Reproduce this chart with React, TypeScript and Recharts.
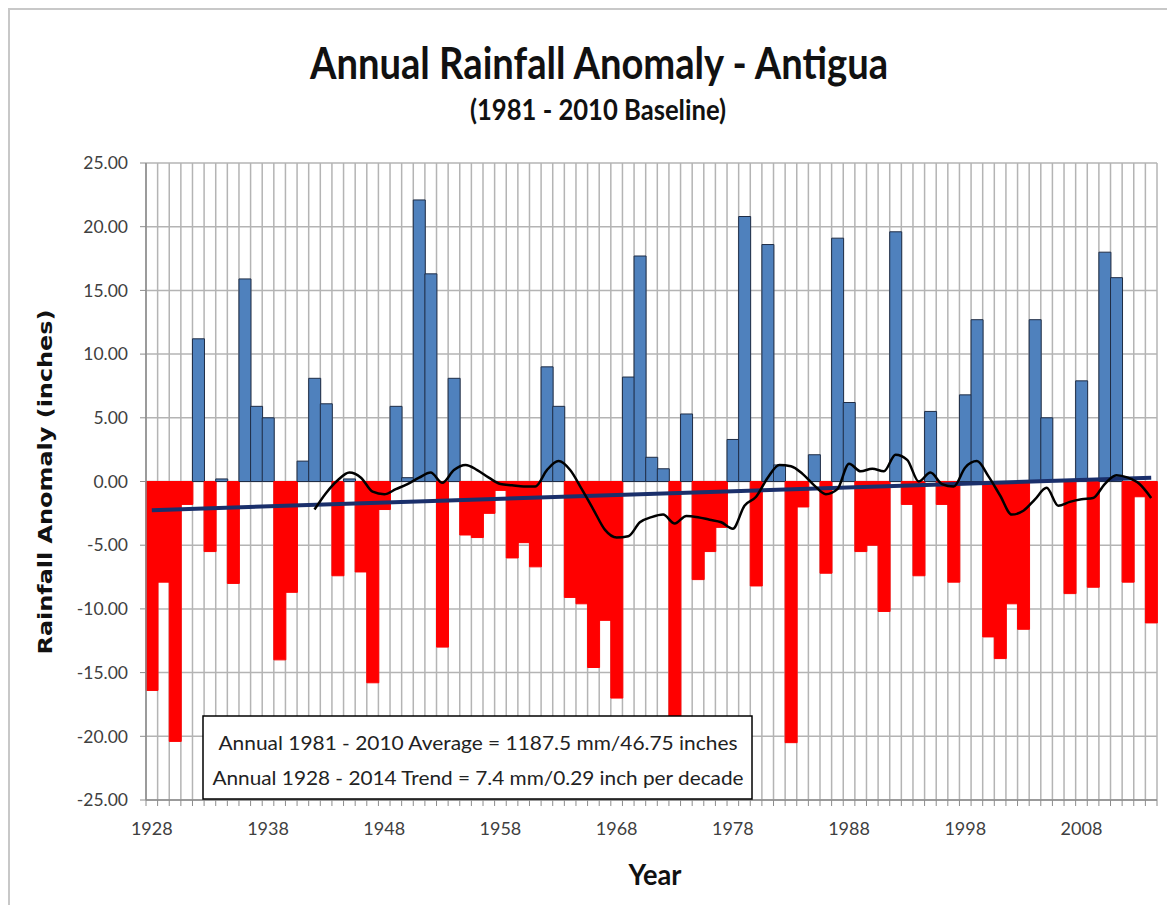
import React from 'react';
import { ComposedChart, Bar, Line, XAxis, YAxis, CartesianGrid, Cell } from 'recharts';

const years = [
  1928, 1929, 1930, 1931, 1932, 1933, 1934, 1935, 1936, 1937,
  1938, 1939, 1940, 1941, 1942, 1943, 1944, 1945, 1946, 1947,
  1948, 1949, 1950, 1951, 1952, 1953, 1954, 1955, 1956, 1957,
  1958, 1959, 1960, 1961, 1962, 1963, 1964, 1965, 1966, 1967,
  1968, 1969, 1970, 1971, 1972, 1973, 1974, 1975, 1976, 1977,
  1978, 1979, 1980, 1981, 1982, 1983, 1984, 1985, 1986, 1987,
  1988, 1989, 1990, 1991, 1992, 1993, 1994, 1995, 1996, 1997,
  1998, 1999, 2000, 2001, 2002, 2003, 2004, 2005, 2006, 2007,
  2008, 2009, 2010, 2011, 2012, 2013, 2014,
];

// annual anomaly, inches
const anomaly = [
  -16.4, -7.9, -20.4, -1.8, 11.2, -5.5, 0.2, -8.0, 15.9, 5.9,
  5.0, -14.0, -8.7, 1.6, 8.1, 6.1, -7.4, 0.2, -7.1, -15.8,
  -2.2, 5.9, 0.3, 22.1, 16.3, -13.0, 8.1, -4.2, -4.4, -2.5,
  -0.7, -6.0, -4.8, -6.7, 9.0, 5.9, -9.1, -9.6, -14.6, -10.9,
  -17.0, 8.2, 17.7, 1.9, 1.0, -18.6, 5.3, -7.7, -5.5, -3.6,
  3.3, 20.8, -8.2, 18.6, 1.3, -20.5, -2.0, 2.1, -7.2, 19.1,
  6.2, -5.5, -5.0, -10.2, 19.6, -1.8, -7.4, 5.5, -1.8, -7.9,
  6.8, 12.7, -12.2, -13.9, -9.6, -11.6, 12.7, 5.0, 0.1, -8.8,
  7.9, -8.3, 18.0, 16.0, -7.9, -1.2, -11.1,
];

// 15-yr running mean (black curve)
const movingAvg = [
  null, null, null, null, null, null, null, null, null, null,
  null, null, null, null, -2.2, -0.9, 0.1, 0.7, 0.3, -0.8,
  -1.0, -0.6, -0.2, 0.3, 0.7, -0.1, 0.9, 1.3, 0.9, 0.3,
  -0.2, -0.3, -0.4, -0.4, 0.9, 1.6, 0.9, -0.6, -2.2, -3.8,
  -4.4, -4.3, -3.2, -2.8, -2.6, -3.3, -2.7, -2.8, -3.0, -3.2,
  -3.7, -1.9, -1.2, 0.3, 1.3, 1.2, 0.6, -0.3, -1.0, -0.6,
  1.4, 0.8, 1.0, 0.8, 2.1, 1.7, 0.0, 0.7, -0.2, -0.4,
  1.1, 1.6, 0.4, -1.1, -2.6, -2.3, -1.4, -0.5, -1.9, -1.6,
  -1.4, -1.3, -0.2, 0.5, 0.3, -0.2, -1.3,
];

// linear trend end points (1928, 2014)
const trendFirst = -2.25;
const trendLast = 0.3;

const yTicks = [-25, -20, -15, -10, -5, 0, 5, 10, 15, 20, 25];
const xTickLabels = [1928, 1938, 1948, 1958, 1968, 1978, 1988, 1998, 2008];

const W = 1167;
const H = 897;
const Y_AXIS_W = 138;
const X_AXIS_H = 105;
const MARGIN = { top: 155, right: 18, left: 0, bottom: 0 };
const PLOT_W = W - MARGIN.right - Y_AXIS_W;
const BAND = PLOT_W / years.length;
const AXIS_Y = H - X_AXIS_H;

const axisColor = '#8c8c8c';
const gridColor = '#b4b4b4';
const textColor = '#404040';
const blueFill = '#4f81bd';
const redFill = '#ff0000';

const data = years.map((year, i) => ({
  year,
  anomaly: anomaly[i],
  ma: movingAvg[i],
  trend: i === 0 ? trendFirst : i === years.length - 1 ? trendLast : null,
}));

function YearTick(props: any) {
  const { x, payload } = props;
  const isLast = payload.value === years[years.length - 1];
  return (
    <g>
      <line x1={x - BAND / 2} x2={x - BAND / 2} y1={AXIS_Y} y2={AXIS_Y + 6} stroke={axisColor} />
      {isLast && <line x1={x + BAND / 2} x2={x + BAND / 2} y1={AXIS_Y} y2={AXIS_Y + 6} stroke={axisColor} />}
      {xTickLabels.includes(payload.value) && (
        <text x={x} y={AXIS_Y + 35} textAnchor="middle" fill={textColor} fontSize={18} fontFamily="Lato">
          {payload.value}
        </text>
      )}
    </g>
  );
}

export default function App() {
  return (
    <div style={{ position: 'relative', width: W, height: H, background: '#fff' }}>
      <ComposedChart width={W} height={H} data={data} margin={MARGIN} barCategoryGap={0} barGap={0}>
        <CartesianGrid
          stroke={gridColor}
          strokeWidth={1.5}
          verticalCoordinatesGenerator={({ offset }: any) =>
            years.map((_, i) => offset.left + i * offset.width / years.length).concat(offset.left + offset.width)
          }
        />
        <XAxis
          dataKey="year"
          height={X_AXIS_H}
          interval={0}
          tickLine={false}
          axisLine={{ stroke: axisColor, strokeWidth: 1.5 }}
          tick={<YearTick />}
        />
        <YAxis
          width={Y_AXIS_W}
          domain={[-25, 25]}
          ticks={yTicks}
          tickFormatter={(v: number) => v.toFixed(2)}
          tickSize={6}
          tickMargin={12}
          axisLine={{ stroke: axisColor, strokeWidth: 1.5 }}
          tickLine={{ stroke: axisColor }}
          tick={{ fill: textColor, fontSize: 17.5, fontFamily: 'Lato' }}
        />
        <Bar dataKey="anomaly" isAnimationActive={false}>
          {data.map((d, i) => (
            <Cell
              key={i}
              fill={d.anomaly >= 0 ? blueFill : redFill}
              stroke={d.anomaly >= 0 ? '#1f2d46' : redFill}
              strokeWidth={1}
            />
          ))}
        </Bar>
        <Line
          dataKey="trend"
          type="linear"
          stroke="#1a2f6b"
          strokeWidth={4}
          dot={false}
          connectNulls
          isAnimationActive={false}
        />
        <Line
          dataKey="ma"
          type="monotone"
          stroke="#000"
          strokeWidth={2.5}
          dot={false}
          isAnimationActive={false}
        />
      </ComposedChart>
      <svg width={W} height={H} style={{ position: 'absolute', left: 0, top: 0, pointerEvents: 'none' }}>
        <line x1={0} y1={1} x2={W} y2={1} stroke="#c8c8c8" strokeWidth={2} />
        <line x1={1} y1={0} x2={1} y2={H} stroke="#c8c8c8" strokeWidth={2} />
        <text x={591} y={71} textAnchor="middle" fontFamily="Lato" fontWeight="bold" fontSize={44} textLength={578} lengthAdjust="spacingAndGlyphs" fill="#111">
          Annual Rainfall Anomaly - Antigua
        </text>
        <text x={590} y={112} textAnchor="middle" fontFamily="Lato" fontWeight="bold" fontSize={29} textLength={256} lengthAdjust="spacingAndGlyphs" fill="#111">
          (1981 - 2010 Baseline)
        </text>
        <text x={37} y={474} transform="rotate(-90 37 474)" textAnchor="middle" dy="0.35em" fontFamily="DejaVu Sans" fontWeight="bold" fontSize={20} textLength={345} lengthAdjust="spacingAndGlyphs" fill="#111">
          Rainfall Anomaly (inches)
        </text>
        <text x={647} y={877} textAnchor="middle" fontFamily="Lato" fontWeight="bold" fontSize={29} textLength={53} lengthAdjust="spacingAndGlyphs" fill="#111">
          Year
        </text>
        <rect x={195} y={708} width={549} height={83} fill="#fff" stroke="#000" strokeWidth={1.5} />
        <text x={470} y={742} textAnchor="middle" fontFamily="Lato" fontSize={20} textLength={519} lengthAdjust="spacingAndGlyphs" fill="#222">
          Annual 1981 - 2010 Average = 1187.5 mm/46.75 inches
        </text>
        <text x={470} y={777} textAnchor="middle" fontFamily="Lato" fontSize={20} textLength={531} lengthAdjust="spacingAndGlyphs" fill="#222">
          Annual 1928 - 2014 Trend = 7.4 mm/0.29 inch per decade
        </text>
      </svg>
    </div>
  );
}
